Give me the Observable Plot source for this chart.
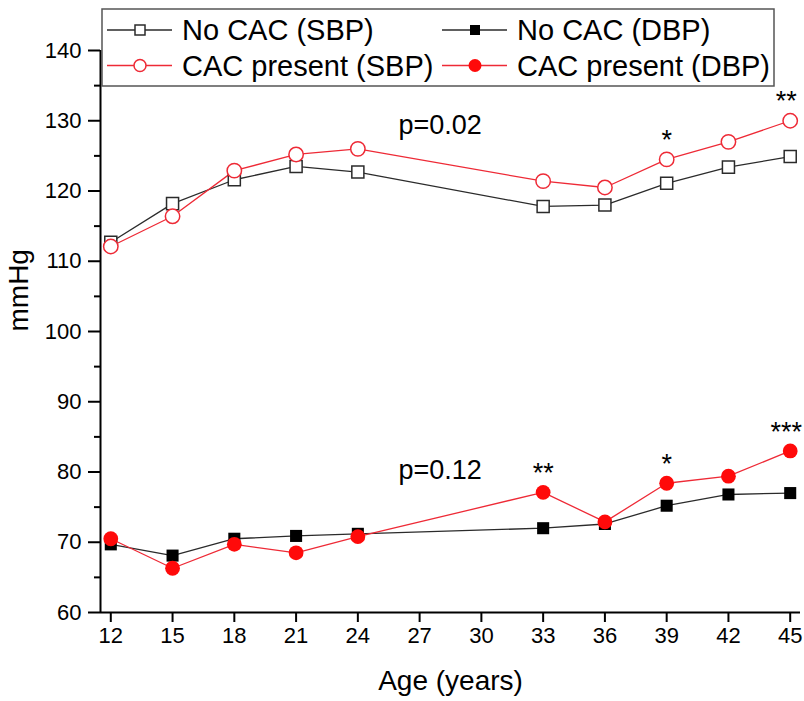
<!DOCTYPE html>
<html>
<head>
<meta charset="utf-8">
<script src="https://cdn.jsdelivr.net/npm/d3@7"></script>
<script src="https://cdn.jsdelivr.net/npm/@observablehq/plot@0.6"></script>
<style>
  html, body { margin: 0; padding: 0; background: white; }
  #chart { position: relative; width: 804px; height: 701px; font-family: "Liberation Sans", Arial, sans-serif; }
  #legend { position: absolute; left: 0; top: 0; }
</style>
</head>
<body>
<div id="chart"></div>
<script>
// Age at examination (years)
const ages = [12, 15, 18, 21, 24, 33, 36, 39, 42, 45];

// Systolic blood pressure (mmHg)
const sbpNoCac   = [112.7, 118.2, 121.6, 123.5, 122.7, 117.8, 118.0, 121.1, 123.4, 124.9];
const sbpCac     = [112.1, 116.4, 122.9, 125.2, 126.0, 121.4, 120.5, 124.5, 127.0, 130.0];

// Diastolic blood pressure (mmHg)
const dbpNoCac   = [69.7, 68.1, 70.5, 70.9, 71.2, 72.0, 72.6, 75.2, 76.8, 77.0];
const dbpCac     = [70.5, 66.3, 69.7, 68.5, 70.8, 77.1, 72.9, 78.4, 79.4, 83.0];

// Significance marks per visit (CAC present vs no CAC)
const sbpStars = ["", "", "", "", "", "", "", "*", "", "**"];
const dbpStars = ["", "", "", "", "", "**", "", "*", "", "***"];

// Overall group p-values
const pLabels = ["p=0.02", "p=0.12"];
const pAges   = [28, 28];
const pValues = [129.4, 80.3];

// Axis ticks
const xTicks = [12, 15, 18, 21, 24, 27, 30, 33, 36, 39, 42, 45];
const yTicks = [60, 70, 80, 90, 100, 110, 120, 130, 140];
const yMinor = [65, 75, 85, 95, 105, 115, 125, 135];

const legendLabels = ["No CAC (SBP)", "No CAC (DBP)", "CAC present (SBP)", "CAC present (DBP)"];

const BLACK = "#2b2b2b";
const RED = "#ee2a36";
const FILLRED = "#ff0a0a";

const toRows = (vals, extra) => ages.map((a, i) => ({age: a, v: vals[i], label: extra ? extra[i] : ""}));
const sbpN = toRows(sbpNoCac), sbpC = toRows(sbpCac, sbpStars);
const dbpN = toRows(dbpNoCac), dbpC = toRows(dbpCac, dbpStars);
const pRows = pLabels.map((t, i) => ({age: pAges[i], v: pValues[i], t}));

// the star group at the last visit sits against the right edge; nudge it inward
const lastAge = ages[ages.length - 1];
const starText = (rows) => [
  Plot.text(rows.filter(d => d.label && d.age !== lastAge), {x: "age", y: "v", text: "label", fontSize: 27, dy: -19, fill: "black"}),
  Plot.text(rows.filter(d => d.label && d.age === lastAge), {x: "age", y: "v", text: "label", fontSize: 27, dy: -19, dx: -4, fill: "black"})
];

const plot = Plot.plot({
  width: 804,
  height: 701,
  marginLeft: 100,
  marginRight: 4,
  marginTop: 50,
  marginBottom: 89,
  style: {fontFamily: "'Liberation Sans', Arial, sans-serif", background: "white", color: "black"},
  x: {domain: [11.5, 45.5]},
  y: {domain: [60, 140]},
  marks: [
    Plot.axisX({ticks: xTicks, tickSize: 10, tickPadding: 5, fontSize: 22, strokeWidth: 2, label: null}),
    Plot.axisY({ticks: yTicks, tickSize: 12, tickPadding: 7, fontSize: 22, strokeWidth: 2, label: null}),
    Plot.axisY({ticks: yMinor, tickSize: 6, strokeWidth: 2, tickFormat: () => "", label: null}),
    Plot.ruleX([11.5], {stroke: "black", strokeWidth: 2}),
    Plot.ruleY([60], {stroke: "black", strokeWidth: 2}),

    // systolic
    Plot.line(sbpN, {x: "age", y: "v", stroke: BLACK, strokeWidth: 1.3}),
    Plot.line(sbpC, {x: "age", y: "v", stroke: RED, strokeWidth: 1.3}),
    Plot.dot(sbpN, {x: "age", y: "v", symbol: "square", r: 6.8, fill: "white", stroke: BLACK, strokeWidth: 1.5}),
    Plot.dot(sbpC, {x: "age", y: "v", symbol: "circle", r: 7.2, fill: "white", stroke: RED, strokeWidth: 1.5}),

    // diastolic
    Plot.line(dbpN, {x: "age", y: "v", stroke: BLACK, strokeWidth: 1.3}),
    Plot.line(dbpC, {x: "age", y: "v", stroke: RED, strokeWidth: 1.3}),
    Plot.dot(dbpN, {x: "age", y: "v", symbol: "square", r: 6.8, fill: "black"}),
    Plot.dot(dbpC, {x: "age", y: "v", symbol: "circle", r: 7.4, fill: FILLRED}),

    // significance stars
    ...starText(sbpC),
    ...starText(dbpC),

    // p-values
    Plot.text(pRows, {x: "age", y: "v", text: "t", fontSize: 27, fill: "black"}),

    // axis titles
    Plot.text(["Age (years)"], {frameAnchor: "bottom", dy: 77, fontSize: 28, fill: "black"}),
    Plot.text(["mmHg"], {frameAnchor: "left", dx: -81, rotate: -90, fontSize: 28, fill: "black"})
  ]
});

const chart = document.getElementById("chart");
chart.appendChild(plot);

// Legend box drawn over the upper part of the frame
const lg = d3.select(chart).append("svg")
  .attr("id", "legend")
  .attr("width", 804).attr("height", 100);

lg.append("rect")
  .attr("x", 102).attr("y", 9).attr("width", 672).attr("height", 77)
  .attr("fill", "white").attr("stroke", "#555").attr("stroke-width", 1.5);

const items = [
  {label: legendLabels[0], col: 0, row: 0, stroke: BLACK, sym: "square", fill: "white"},
  {label: legendLabels[1], col: 1, row: 0, stroke: BLACK, sym: "square", fill: "black"},
  {label: legendLabels[2], col: 0, row: 1, stroke: RED, sym: "circle", fill: "white"},
  {label: legendLabels[3], col: 1, row: 1, stroke: RED, sym: "circle", fill: FILLRED}
];
const colX = [107, 442];
const rowY = [30, 65.5];
for (const it of items) {
  const x0 = colX[it.col], y0 = rowY[it.row];
  const g = lg.append("g");
  g.append("line").attr("x1", x0).attr("x2", x0 + 65).attr("y1", y0).attr("y2", y0)
    .attr("stroke", it.stroke).attr("stroke-width", 1.3);
  const cx = x0 + 33;
  if (it.sym === "square") {
    g.append("rect").attr("x", cx - 5).attr("y", y0 - 5).attr("width", 10).attr("height", 10)
      .attr("fill", it.fill).attr("stroke", it.fill === "black" ? "none" : it.stroke).attr("stroke-width", 1.5);
  } else {
    g.append("circle").attr("cx", cx).attr("cy", y0).attr("r", it.fill === "white" ? 6 : 6.5)
      .attr("fill", it.fill).attr("stroke", it.fill === "white" ? it.stroke : "none").attr("stroke-width", 1.5);
  }
  g.append("text").attr("x", x0 + 75).attr("y", y0).attr("dy", "0.35em")
    .attr("font-size", 29).attr("font-family", "'Liberation Sans', Arial, sans-serif")
    .attr("fill", "black").text(it.label);
}
</script>
</body>
</html>
